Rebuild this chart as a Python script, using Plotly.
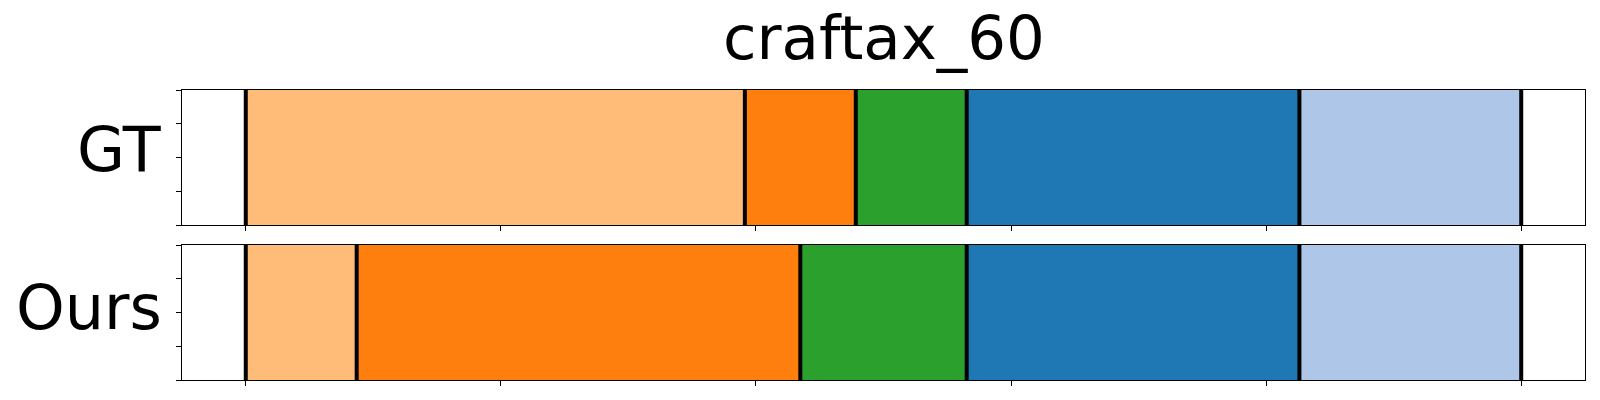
import plotly.graph_objects as go
import numpy as np

title = "craftax_60"
row_labels = ["GT", "Ours"]
# segment lengths (in frames) and colours, per row
gt_lengths = [9, 2, 2, 6, 4]
gt_colors = ["#ffbb78", "#ff7f0e", "#2ca02c", "#1f77b4", "#aec7e8"]
ours_lengths = [2, 8, 3, 6, 4]
ours_colors = ["#ffbb78", "#ff7f0e", "#2ca02c", "#1f77b4", "#aec7e8"]
x_ticks = [0, 0.2, 0.4, 0.6, 0.8, 1.0]
y_ticks = [0, 0.25, 0.5, 0.75, 1.0]

rows = [(gt_lengths, gt_colors), (ours_lengths, ours_colors)]

fig = go.Figure()
for i, (lengths, colors) in enumerate(rows):
    xa = "x" if i == 0 else "x2"
    ya = "y" if i == 0 else "y2"
    total = float(sum(lengths))
    starts = np.concatenate([[0], np.cumsum(lengths)[:-1]]) / total
    widths = np.array(lengths) / total
    for s, w, c in zip(starts, widths, colors):
        fig.add_trace(go.Bar(orientation="h", y=[0.5], x=[w], base=[s], width=1.0,
                             marker=dict(color=c, line=dict(width=0)),
                             xaxis=xa, yaxis=ya, showlegend=False, hoverinfo="skip"))
    bounds = np.concatenate([[0], np.cumsum(lengths)]) / total
    for b in bounds:
        fig.add_trace(go.Scatter(x=[b, b], y=[0, 1], mode="lines",
                                 line=dict(color="black", width=4),
                                 xaxis=xa, yaxis=ya, showlegend=False, hoverinfo="skip"))

axis_common = dict(showline=True, linecolor="black", linewidth=1, mirror=True,
                   ticks="outside", ticklen=5, tickwidth=1, tickcolor="black",
                   showticklabels=False, showgrid=False, zeroline=False)

fig.update_layout(
    width=1592, height=392,
    margin=dict(l=174, r=15, t=82, b=20),
    plot_bgcolor="white", paper_bgcolor="white",
    barmode="overlay",
    font=dict(family="DejaVu Sans", color="black"),
    xaxis=dict(domain=[0, 1], range=[-0.05, 1.05], tickvals=x_ticks, anchor="y", **axis_common),
    yaxis=dict(domain=[0.5345, 1], range=[0, 1], tickvals=y_ticks, anchor="x", **axis_common),
    xaxis2=dict(domain=[0, 1], range=[-0.05, 1.05], tickvals=x_ticks, anchor="y2", **axis_common),
    yaxis2=dict(domain=[0, 0.4655], range=[0, 1], tickvals=y_ticks, anchor="x2", **axis_common),
)

fig.add_annotation(text=title, xref="paper", yref="paper", x=0.5, y=1, yanchor="bottom",
                   xanchor="center", yshift=15, showarrow=False,
                   font=dict(size=61, family="DejaVu Sans", color="black"))
fig.add_annotation(text=row_labels[0], xref="paper", yref="paper", x=0, y=0.7935,
                   xanchor="right", yanchor="middle", xshift=-18, showarrow=False,
                   font=dict(size=62, family="DejaVu Sans", color="black"))
fig.add_annotation(text=row_labels[1], xref="paper", yref="paper", x=0, y=0.2515,
                   xanchor="right", yanchor="middle", xshift=-18, showarrow=False,
                   font=dict(size=62, family="DejaVu Sans", color="black"))

fig.write_html("out.html")
